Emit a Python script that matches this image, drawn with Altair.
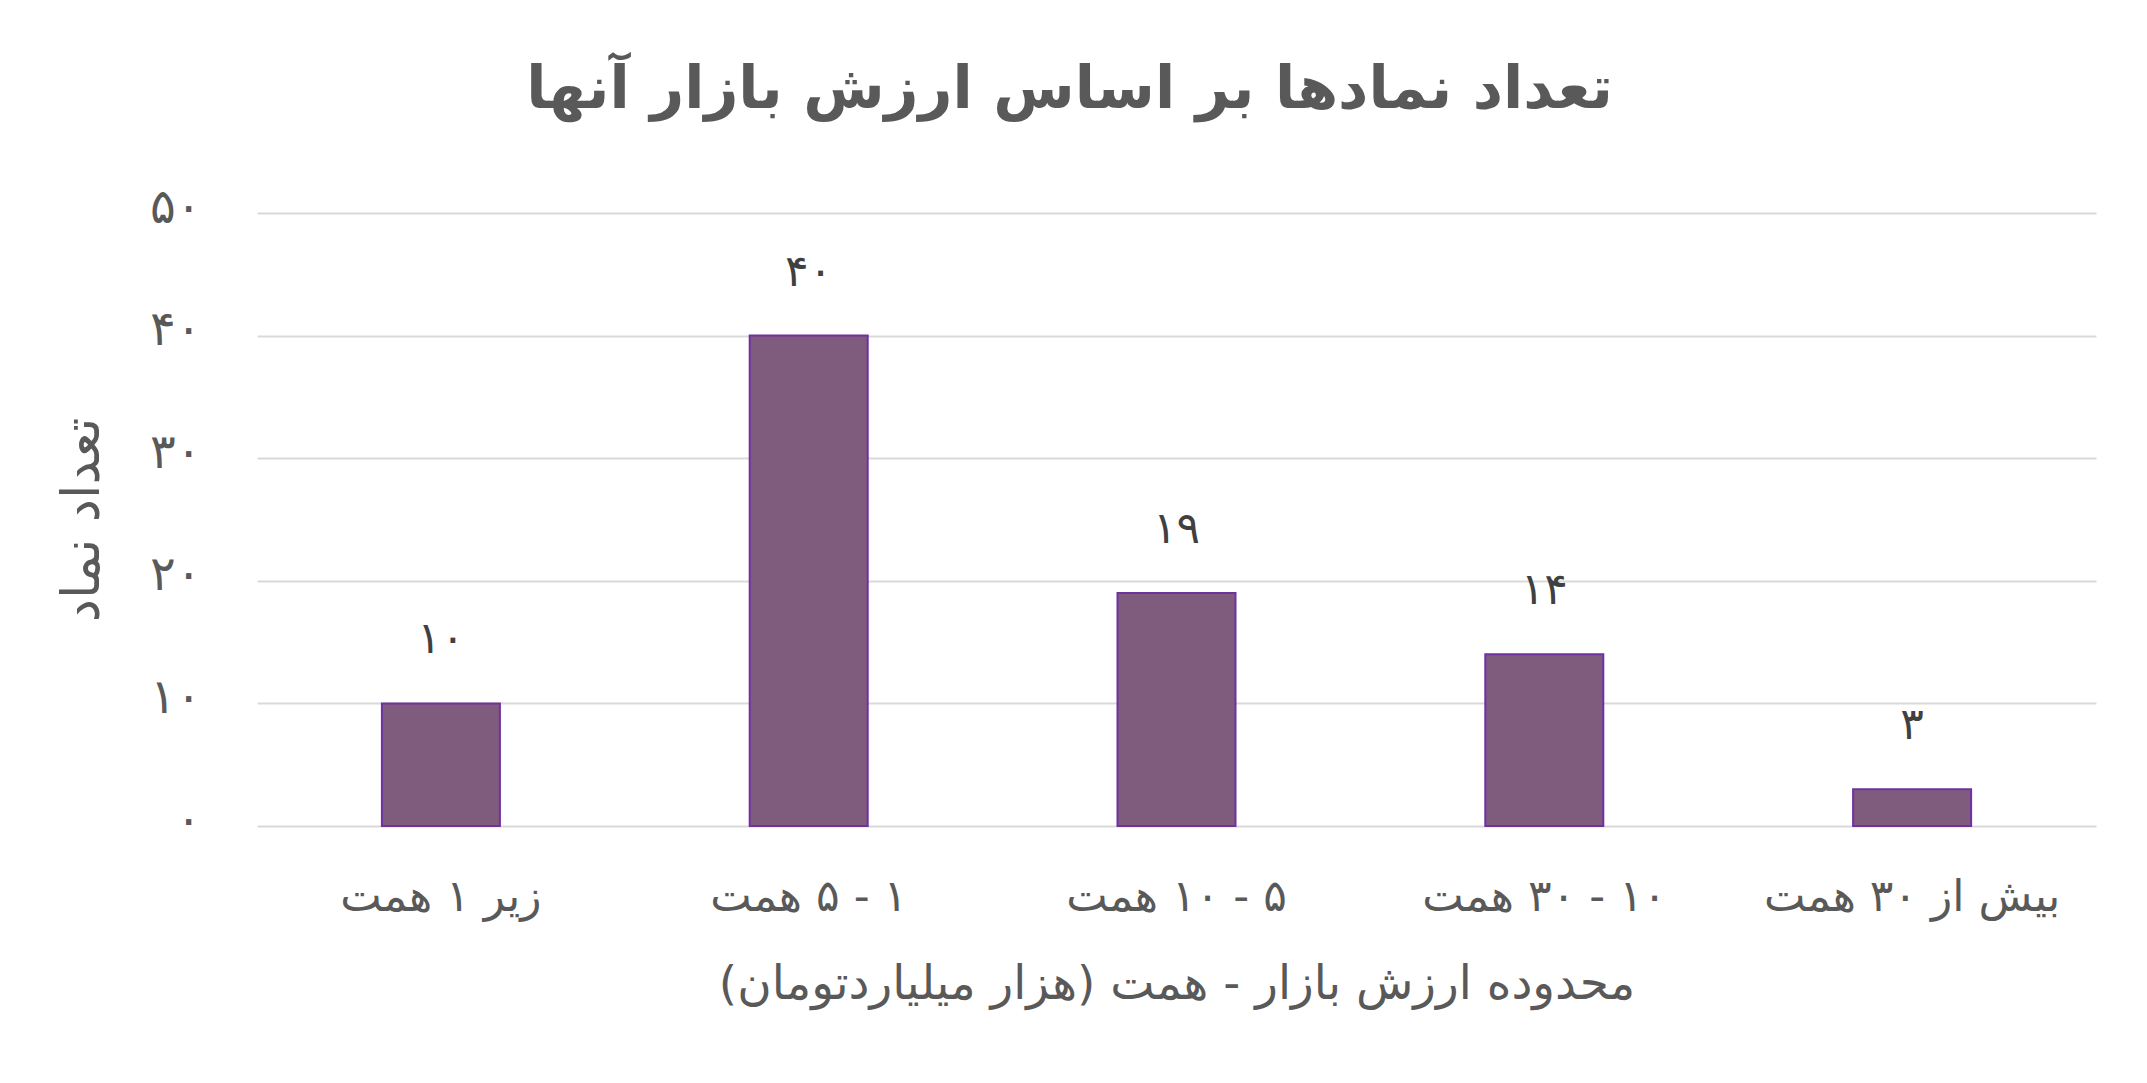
import altair as alt
import pandas as pd

# ---- data ----
categories = ["زیر ۱ همت", "۱ - ۵ همت", "۵ - ۱۰ همت", "۱۰ - ۳۰ همت", "بیش از ۳۰ همت"]
values = [10, 40, 19, 14, 3]
value_labels = ["۱۰", "۴۰", "۱۹", "۱۴", "۳"]
y_ticks = [0, 10, 20, 30, 40, 50]
y_tick_labels = ["۰", "۱۰", "۲۰", "۳۰", "۴۰", "۵۰"]
title_text = "تعداد نمادها بر اساس ارزش بازار آنها"
x_title = "محدوده ارزش بازار - همت (هزار میلیاردتومان)"
y_title = "تعداد نماد"

RLE, PDF = "\u202b", "\u202c"
FONT = "DejaVu Sans"
GREY = "#595959"

df = pd.DataFrame({"cat": categories, "value": values, "label": value_labels})

y_label_expr = " : ".join(
    f"datum.value == {v} ? '{l}'" for v, l in zip(y_ticks, y_tick_labels)
) + " : ''"

base = alt.Chart(df).encode(
    x=alt.X(
        "cat:N",
        sort=categories,
        scale=alt.Scale(paddingInner=0, paddingOuter=0),
        axis=alt.Axis(
            title=RLE + x_title + PDF,
            labelExpr=f"'{RLE}' + datum.label + '{PDF}'",
            labelAngle=0,
            labelLimit=0,
            labelFont=FONT,
            labelFontSize=44,
            labelColor=GREY,
            labelPadding=49,
            titleFont=FONT,
            titleFontSize=47,
            titleFontWeight="normal",
            titleColor=GREY,
            titlePadding=42,
            titleLimit=0,
            domain=False,
            ticks=False,
            grid=False,
        ),
    ),
    y=alt.Y(
        "value:Q",
        scale=alt.Scale(domain=[0, 50]),
        axis=alt.Axis(
            title=y_title,
            values=y_ticks,
            labelExpr=y_label_expr,
            labelFont=FONT,
            labelFontSize=48,
            labelColor=GREY,
            labelPadding=56,
            labelOffset=-5,
            titleFont=FONT,
            titleFontSize=52,
            titleFontWeight="normal",
            titleColor=GREY,
            titlePadding=40,
            domain=False,
            ticks=False,
            grid=True,
            gridColor="#D9D9D9",
            gridWidth=2,
        ),
    ),
)

bars = base.mark_bar(size=118, color="#7F5C7E", stroke="#7030A0", strokeWidth=2)
texts = base.mark_text(
    dy=-63, baseline="middle", font=FONT, fontSize=44, color="#404040"
).encode(text="label:N")

chart = (
    alt.layer(bars, texts)
    .properties(
        width=1839,
        height=613,
        padding={"left": 249, "top": 205, "right": 40, "bottom": 230},
        autosize=alt.AutoSizeParams(type="none"),
        title=alt.TitleParams(
            text=title_text,
            font=FONT,
            fontSize=59,
            fontWeight="bold",
            color=GREY,
            anchor="middle",
            dx=-107,
            offset=64,
        ),
    )
    .configure(background="white")
    .configure_view(stroke=None, strokeWidth=0)
)

chart.save("out.html", embed_options={"renderer": "svg", "actions": False})
